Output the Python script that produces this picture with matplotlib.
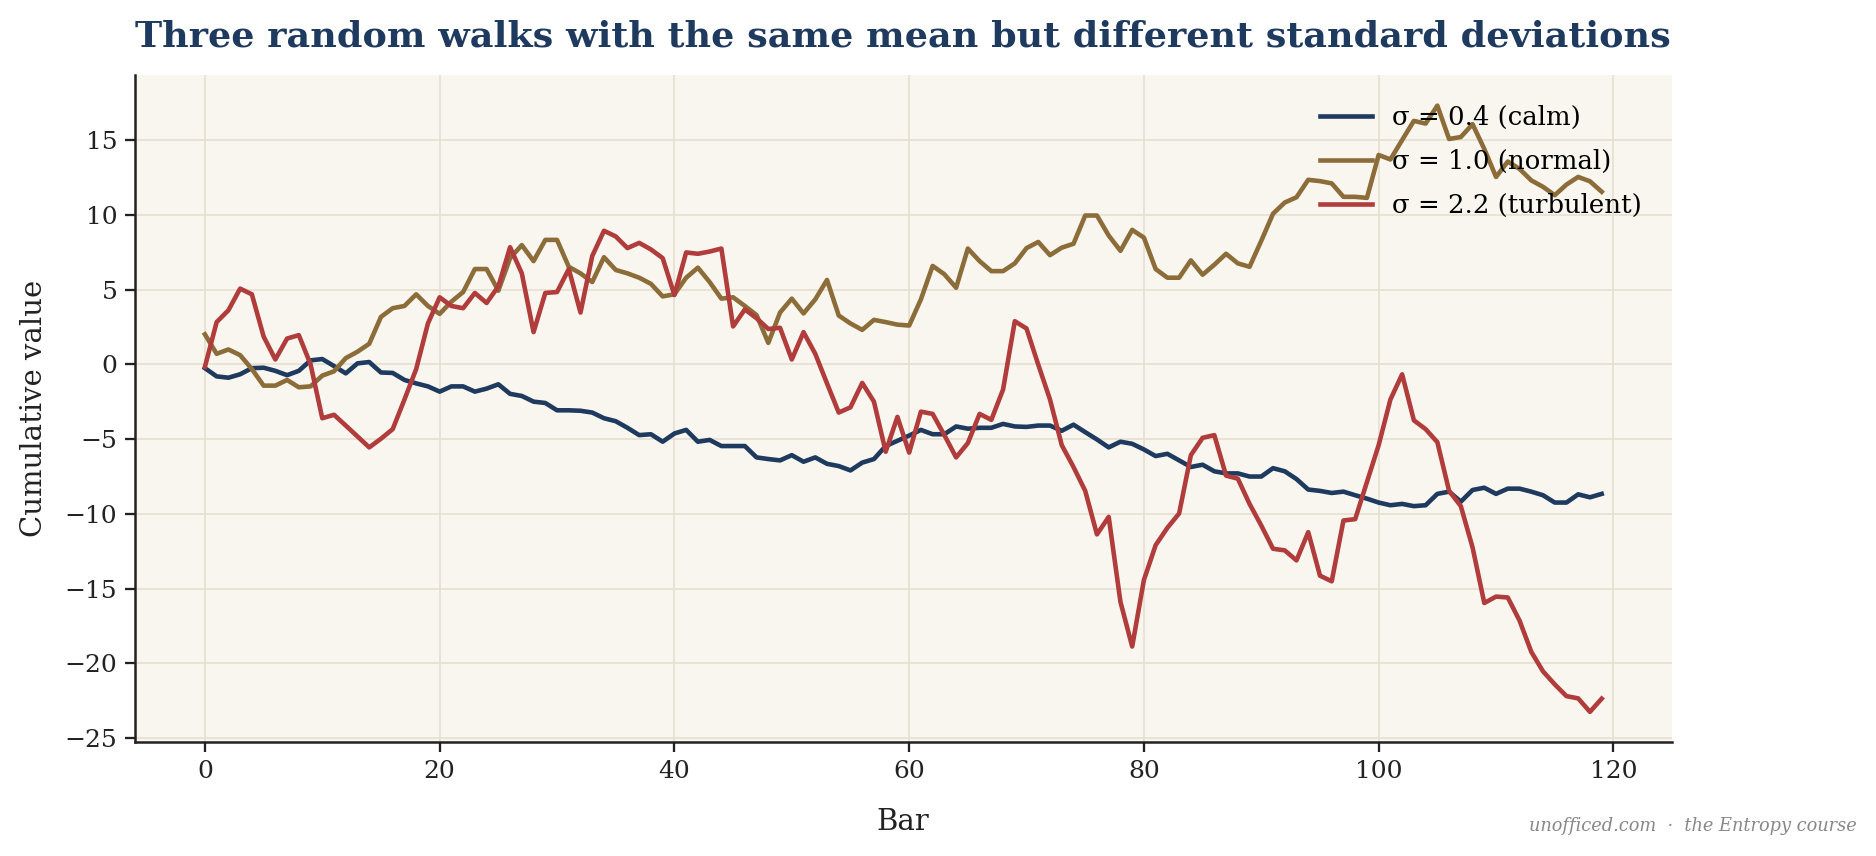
import matplotlib
matplotlib.use("Agg")
import matplotlib.pyplot as plt
import numpy as np

# --- data (cumulative value per bar) ---
bars = np.arange(120)

calm = [
    -0.26, -0.81, -0.90, -0.67, -0.26, -0.23, -0.44, -0.73, -0.44, 0.26,
    0.35, -0.12, -0.61, 0.06, 0.15, -0.55, -0.58, -1.05, -1.28, -1.48,
    -1.83, -1.48, -1.48, -1.83, -1.63, -1.34, -1.98, -2.12, -2.50, -2.59,
    -3.08, -3.08, -3.11, -3.23, -3.61, -3.81, -4.25, -4.74, -4.68, -5.18,
    -4.63, -4.39, -5.18, -5.06, -5.47, -5.47, -5.47, -6.23, -6.34, -6.43,
    -6.08, -6.52, -6.23, -6.66, -6.81, -7.10, -6.58, -6.34, -5.47, -5.12,
    -4.77, -4.39, -4.68, -4.68, -4.16, -4.31, -4.25, -4.25, -3.99, -4.16,
    -4.19, -4.10, -4.10, -4.45, -4.04, -4.54, -5.03, -5.56, -5.18, -5.32,
    -5.70, -6.14, -5.99, -6.43, -6.87, -6.72, -7.16, -7.30, -7.30, -7.51,
    -7.51, -6.95, -7.16, -7.68, -8.38, -8.47, -8.61, -8.52, -8.76, -8.99,
    -9.25, -9.43, -9.34, -9.49, -9.43, -8.67, -8.52, -9.19, -8.41, -8.26,
    -8.67, -8.32, -8.32, -8.52, -8.76, -9.25, -9.25, -8.70, -8.90, -8.67,
]

normal = [
    2.00, 0.70, 0.99, 0.61, -0.32, -1.43, -1.43, -1.05, -1.54, -1.48,
    -0.76, -0.47, 0.41, 0.84, 1.37, 3.17, 3.75, 3.90, 4.68, 3.90,
    3.37, 4.19, 4.83, 6.37, 6.37, 4.92, 7.10, 7.97, 6.90, 8.32,
    8.32, 6.52, 6.08, 5.50, 7.16, 6.31, 6.08, 5.79, 5.38, 4.54,
    4.68, 5.79, 6.46, 5.50, 4.39, 4.48, 3.90, 3.29, 1.43, 3.46,
    4.39, 3.40, 4.34, 5.64, 3.26, 2.73, 2.30, 2.97, 2.82, 2.65,
    2.59, 4.34, 6.58, 6.02, 5.12, 7.74, 6.90, 6.23, 6.23, 6.75,
    7.77, 8.18, 7.30, 7.80, 8.06, 9.95, 9.95, 8.61, 7.59, 8.99,
    8.47, 6.37, 5.79, 5.79, 6.95, 5.99, 6.66, 7.39, 6.75, 6.52,
    8.26, 10.07, 10.82, 11.17, 12.34, 12.25, 12.10, 11.20, 11.20, 11.13,
    14.00, 13.70, 15.00, 16.28, 16.10, 17.30, 15.07, 15.20, 16.06, 14.40,
    12.53, 13.56, 13.07, 12.30, 11.87, 11.31, 12.02, 12.53, 12.24, 11.54,
]

turbulent = [
    -0.17, 2.82, 3.61, 5.06, 4.68, 1.86, 0.32, 1.72, 1.95, 0.00,
    -3.61, -3.38, -4.10, -4.83, -5.56, -4.98, -4.34, -2.36, -0.32, 2.73,
    4.48, 3.90, 3.75, 4.77, 4.10, 5.21, 7.83, 6.08, 2.15, 4.77,
    4.83, 6.37, 3.46, 7.24, 8.93, 8.55, 7.77, 8.12, 7.68, 7.10,
    4.63, 7.48, 7.39, 7.54, 7.74, 2.53, 3.67, 3.08, 2.36, 2.44,
    0.32, 2.15, 0.70, -1.28, -3.23, -2.88, -1.25, -2.50, -5.85, -3.52,
    -5.91, -3.17, -3.32, -4.74, -6.23, -5.27, -3.32, -3.72, -1.69, 2.88,
    2.39, -0.03, -2.36, -5.41, -6.87, -8.47, -11.38, -10.21, -15.89, -18.88,
    -14.43, -12.10, -10.94, -9.98, -6.08, -4.92, -4.74, -7.45, -7.65, -9.34,
    -10.79, -12.34, -12.45, -13.12, -11.23, -14.14, -14.52, -10.45, -10.36, -7.88,
    -5.41, -2.36, -0.67, -3.75, -4.34, -5.21, -8.47, -9.49, -12.25, -15.97,
    -15.54, -15.60, -17.14, -19.23, -20.54, -21.41, -22.20, -22.35, -23.25, -22.37,
]

labels = ["σ = 0.4 (calm)", "σ = 1.0 (normal)", "σ = 2.2 (turbulent)"]
colors = ["#1f3a5f", "#8c6d3a", "#b03c3c"]

NAVY = "#1f3a5f"
plt.rcParams["font.family"] = ["DejaVu Serif"]

fig = plt.figure(figsize=(1876 / 150, 856 / 150), dpi=150)
ax = fig.add_axes([0.072, 0.133, 0.819, 0.779])
ax.set_facecolor("#f9f6ef")

for series, lab, col in zip([calm, normal, turbulent], labels, colors):
    ax.plot(bars, series, color=col, linewidth=2.2, label=lab)

ax.set_xticks([0, 20, 40, 60, 80, 100, 120])
ax.grid(True, color="#e6e0d2", linewidth=0.8)
ax.set_axisbelow(True)
for side in ["top", "right"]:
    ax.spines[side].set_visible(False)
for side in ["left", "bottom"]:
    ax.spines[side].set_color("#222222")
    ax.spines[side].set_linewidth(1.2)
ax.tick_params(labelsize=12, colors="#222222", length=5, width=1.1)

ax.set_xlabel("Bar", fontsize=14, color="#222222", labelpad=12)
ax.set_ylabel("Cumulative value", fontsize=14, color="#222222", labelpad=8)
ax.set_title("Three random walks with the same mean but different standard deviations",
             fontsize=17.5, fontweight="bold", color=NAVY, pad=14)

leg = ax.legend(loc="upper right", frameon=False, fontsize=12.5,
                labelspacing=0.72, handletextpad=0.75, handlelength=2.0,
                borderaxespad=0.75)

fig.text(0.99, 0.035, "unofficed.com  ·  the Entropy course", ha="right", va="center",
         fontsize=8.5, style="italic", color="#888888")

fig.savefig("out.png", dpi=150)
